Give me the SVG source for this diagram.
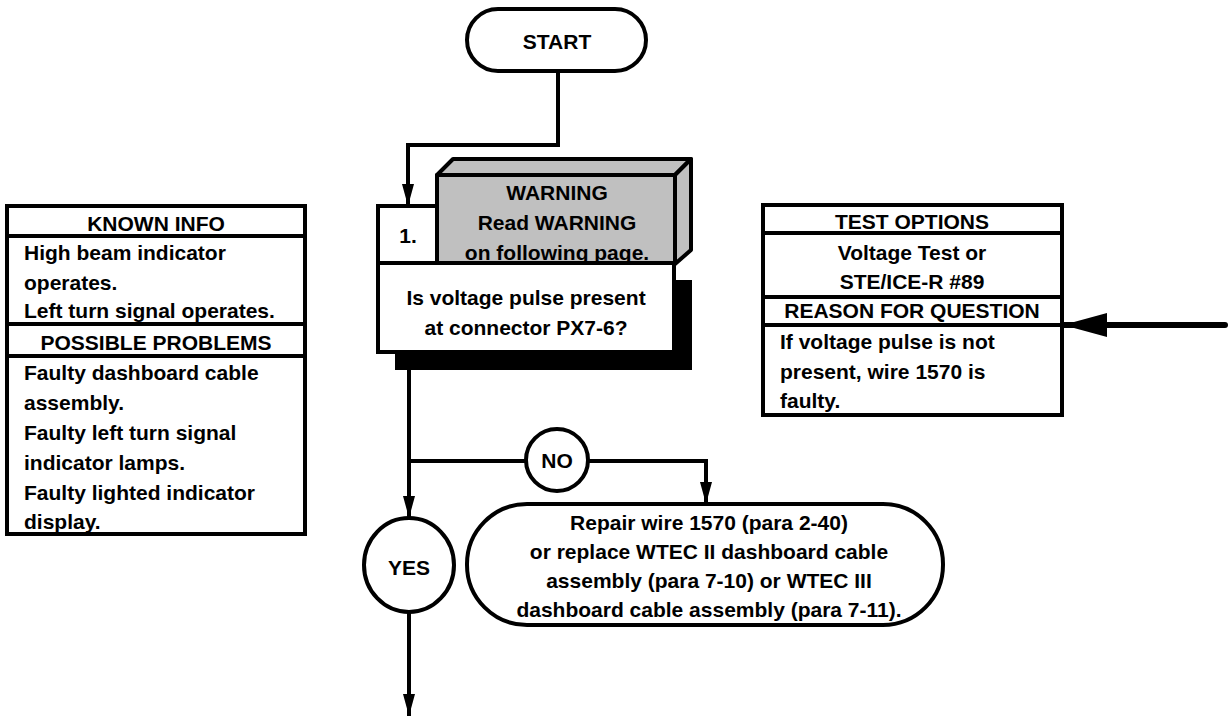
<svg xmlns="http://www.w3.org/2000/svg" width="1229" height="717" viewBox="0 0 1229 717">
<defs>
<style>
text{font-family:"Liberation Sans",Arial,sans-serif;font-weight:bold;font-size:21px;fill:#000}
.c{text-anchor:middle}
.box{fill:#fff;stroke:#000;stroke-width:4}
.gray{fill:#c0c0c0;stroke:#000;stroke-width:4;stroke-linejoin:round}
.ln{fill:none;stroke:#000;stroke-width:4}
.sep{stroke:#000;stroke-width:4}
</style>
<marker id="ah" viewBox="0 0 22 12" refX="22" refY="6" markerWidth="22" markerHeight="12" markerUnits="userSpaceOnUse" orient="auto">
<path d="M0,0 L22,6 L0,12 Z" fill="#000"/>
</marker>
<marker id="ahBig" viewBox="0 0 44 24" refX="44" refY="12" markerWidth="44" markerHeight="24" markerUnits="userSpaceOnUse" orient="auto">
<path d="M0,0 L44,12 L0,24 Z" fill="#000"/>
</marker>
</defs>
<rect width="1229" height="717" fill="#fff"/>

<g id="connectors">
<path class="ln" d="M558,71 V145 H408 V206" marker-end="url(#ah)"/>
<path class="ln" d="M409,370 V518" marker-end="url(#ah)"/>
<path class="ln" d="M409,461 H526"/>
<path class="ln" d="M588,461 H706 V504" marker-end="url(#ah)"/>
<path class="ln" d="M409,612 V716" marker-end="url(#ah)"/>
<path d="M1225,325 H1063" fill="none" stroke="#000" stroke-width="6" stroke-linecap="round" marker-end="url(#ahBig)"/>
</g>

<g id="start">
<rect class="box" x="467" y="9" width="179" height="62" rx="31"/>
<text class="c" x="557" y="49">START</text>
</g>

<g id="step1">
<rect x="395" y="280" width="297" height="90" fill="#000"/>
<rect class="box" x="378" y="263" width="296" height="89"/>
<rect class="box" x="378" y="206" width="59" height="57"/>
<text class="c" x="408" y="243">1.</text>
<path class="gray" d="M437,175 L453,159 H691 L675,175 Z"/>
<path class="gray" d="M675,175 L691,159 V250 L675,264 Z"/>
<rect class="gray" x="437" y="175" width="238" height="88"/>
<text class="c" x="557" y="200">WARNING</text>
<text class="c" x="557" y="230">Read WARNING</text>
<text class="c" x="557" y="260">on following page.</text>
<text class="c" x="526" y="305">Is voltage pulse present</text>
<text class="c" x="526" y="335">at connector PX7-6?</text>
</g>

<g id="known-info">
<rect class="box" x="7" y="206" width="298" height="328"/>
<line class="sep" x1="7" y1="236" x2="305" y2="236"/>
<line class="sep" x1="7" y1="324" x2="305" y2="324"/>
<line class="sep" x1="7" y1="356" x2="305" y2="356"/>
<text class="c" x="156" y="231">KNOWN INFO</text>
<text x="24" y="260">High beam indicator</text>
<text x="24" y="290">operates.</text>
<text x="24" y="318">Left turn signal operates.</text>
<text class="c" x="156" y="350">POSSIBLE PROBLEMS</text>
<text x="24" y="380">Faulty dashboard cable</text>
<text x="24" y="410">assembly.</text>
<text x="24" y="440">Faulty left turn signal</text>
<text x="24" y="470">indicator lamps.</text>
<text x="24" y="500">Faulty lighted indicator</text>
<text x="24" y="529">display.</text>
</g>

<g id="test-options">
<rect class="box" x="763" y="205" width="299" height="210"/>
<line class="sep" x1="763" y1="233" x2="1062" y2="233"/>
<line class="sep" x1="763" y1="297" x2="1062" y2="297"/>
<line class="sep" x1="763" y1="325" x2="1062" y2="325"/>
<text class="c" x="912" y="229">TEST OPTIONS</text>
<text class="c" x="912" y="260">Voltage Test or</text>
<text class="c" x="912" y="289">STE/ICE-R #89</text>
<text class="c" x="912" y="318">REASON FOR QUESTION</text>
<text x="780" y="349">If voltage pulse is not</text>
<text x="780" y="379">present, wire 1570 is</text>
<text x="780" y="408">faulty.</text>
</g>

<g id="no">
<ellipse class="box" cx="557" cy="460" rx="31" ry="31"/>
<text class="c" x="557" y="468">NO</text>
</g>

<g id="yes">
<ellipse class="box" cx="409" cy="565" rx="45" ry="47"/>
<text class="c" x="409" y="575">YES</text>
</g>

<g id="repair">
<rect class="box" x="467" y="504" width="476" height="121" rx="60"/>
<text class="c" x="709" y="530">Repair wire 1570 (para 2-40)</text>
<text class="c" x="709" y="559">or replace WTEC II dashboard cable</text>
<text class="c" x="709" y="588">assembly (para 7-10) or WTEC III</text>
<text class="c" x="709" y="617">dashboard cable assembly (para 7-11).</text>
</g>
</svg>
